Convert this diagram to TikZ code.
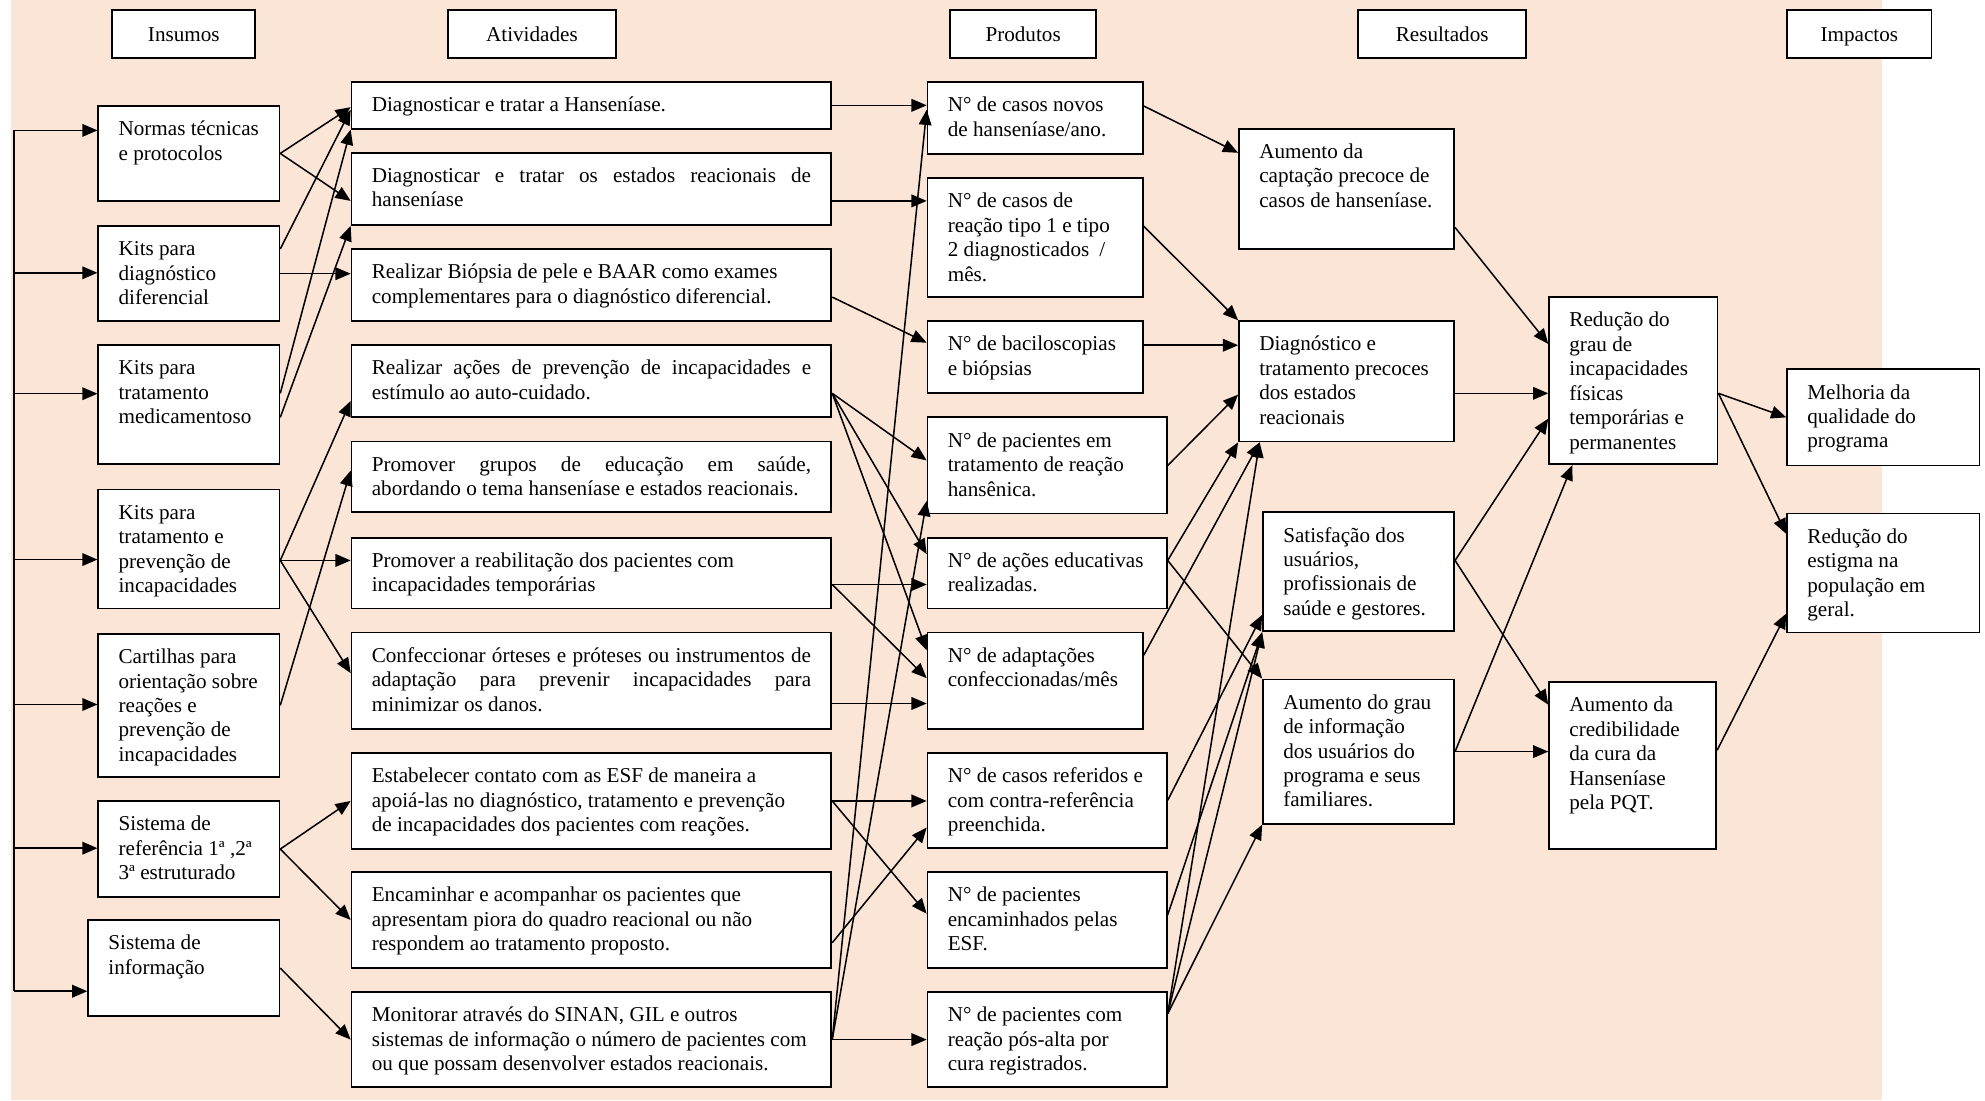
\documentclass[tikz,border=0pt]{standalone}
\usepackage{fontspec}
\setmainfont{Liberation Serif}
\usetikzlibrary{arrows.meta}
\definecolor{peach}{HTML}{FBE5D6}
\newcommand{\bt}[3]{\hspace*{16pt}\parbox[c][#2pt][t]{\dimexpr#1pt-20pt\relax}{\vspace*{10pt}\strut#3}\hspace*{4pt}}
\newcommand{\jtxt}[1]{\makebox[\dimexpr\linewidth-12pt\relax][s]{#1}}
\begin{document}
\begin{tikzpicture}[x=1pt,y=1pt,
  every node/.style={font=\fontsize{16.7}{19.3}\selectfont},
  box/.style={draw, line width=1.4pt, fill=white, anchor=north west, inner sep=0pt},
  hdr/.style={draw, line width=1.4pt, fill=white, anchor=north west, inner sep=0pt, minimum height=38pt, text height=13pt, text depth=1pt},
  arr/.style={line width=1.2pt, -{Triangle[length=12pt,width=10pt]}},
  ln/.style={line width=1.2pt}]
\path[use as bounding box] (0,0) rectangle (1568,-869);
\fill[peach] (9,0) rectangle (1487,-869);

% headers
\node[hdr, minimum width=113pt] (hI) at (88,-7) {Insumos};
\node[hdr, minimum width=133pt] (hA) at (353,-7) {Atividades};
\node[hdr, minimum width=115pt] (hP) at (750,-7) {Produtos};
\node[hdr, minimum width=133pt] (hR) at (1072,-7) {Resultados};
\node[hdr, minimum width=114pt] (hM) at (1411,-7) {Impactos};

% insumos
\node[box] (in1) at (77,-83) {\bt{143}{75}{Normas técnicas\\e protocolos}};
\node[box] (in2) at (77,-178) {\bt{143}{75}{Kits para\\diagnóstico\\diferencial}};
\node[box] (in3) at (77,-272) {\bt{143}{94}{Kits para\\tratamento\\medicamentoso}};
\node[box] (in4) at (77,-386) {\bt{143}{94}{Kits para\\tratamento e\\prevenção de\\incapacidades}};
\node[box] (in5) at (77,-500) {\bt{143}{113}{Cartilhas para\\orientação sobre\\reações e\\prevenção de\\incapacidades}};
\node[box] (in6) at (77,-632) {\bt{143}{76}{Sistema de\\referência 1ª ,2ª\\3ª estruturado}};
\node[box] (in7) at (69,-726) {\bt{151}{76}{Sistema de\\informação}};

% atividades
\node[box] (a1) at (277,-64) {\bt{379}{37}{Diagnosticar e tratar a Hanseníase.}};
\node[box] (a2) at (277,-120) {\bt{379}{57}{\jtxt{Diagnosticar e tratar os estados reacionais de}\\hanseníase}};
\node[box] (a3) at (277,-196) {\bt{379}{57}{Realizar Biópsia de pele e BAAR como exames\\complementares para o diagnóstico diferencial.}};
\node[box] (a4) at (277,-272) {\bt{379}{57}{\jtxt{Realizar ações de prevenção de incapacidades e}\\estímulo ao auto-cuidado.}};
\node[box] (a5) at (277,-348) {\bt{379}{56}{\jtxt{Promover grupos de educação em saúde,}\\abordando o tema hanseníase e estados reacionais.}};
\node[box] (a6) at (277,-424) {\bt{379}{56}{Promover a reabilitação dos pacientes com\\incapacidades temporárias}};
\node[box] (a7) at (277,-499) {\bt{379}{76}{\jtxt{Confeccionar órteses e próteses ou instrumentos de}\\\jtxt{adaptação para prevenir incapacidades para}\\minimizar os danos.}};
\node[box] (a8) at (277,-594) {\bt{379}{76}{Estabelecer contato com as ESF de maneira a\\apoiá-las no diagnóstico, tratamento e prevenção\\de incapacidades dos pacientes com reações.}};
\node[box] (a9) at (277,-688) {\bt{379}{76}{Encaminhar e acompanhar os pacientes que\\apresentam piora do quadro reacional ou não\\respondem ao tratamento proposto.}};
\node[box] (a10) at (277,-783) {\bt{379}{75}{Monitorar através do SINAN, GIL e outros\\sistemas de informação o número de pacientes com\\ou que possam desenvolver estados reacionais.}};

% produtos
\node[box] (p1) at (732,-64) {\bt{170}{57}{N° de casos novos\\de hanseníase/ano.}};
\node[box] (p2) at (732,-140) {\bt{170}{94}{N° de casos de\\reação tipo 1 e tipo\\2 diagnosticados\hspace{8pt}/\\mês.}};
\node[box] (p3) at (732,-253) {\bt{170}{57}{N° de baciloscopias\\e biópsias}};
\node[box] (p4) at (732,-329) {\bt{189}{76}{N° de pacientes em\\tratamento de reação\\hansênica.}};
\node[box] (p5) at (732,-424) {\bt{189}{56}{N° de ações educativas\\realizadas.}};
\node[box] (p6) at (732,-499) {\bt{170}{76}{N° de adaptações\\confeccionadas/mês}};
\node[box] (p7) at (732,-594) {\bt{189}{75}{N° de casos referidos e\\com contra-referência\\preenchida.}};
\node[box] (p8) at (732,-688) {\bt{189}{76}{N° de pacientes\\encaminhados pelas\\ESF.}};
\node[box] (p9) at (732,-783) {\bt{189}{75}{N° de pacientes com\\reação pós-alta por\\cura registrados.}};

% resultados
\node[box] (r1) at (978,-101) {\bt{170}{95}{Aumento da\\captação precoce de\\casos de hanseníase.}};
\node[box] (r2) at (978,-253) {\bt{170}{95}{Diagnóstico e\\tratamento precoces\\dos estados\\reacionais}};
\node[box] (r3) at (997,-404) {\bt{151}{94}{Satisfação dos\\usuários,\\profissionais de\\saúde e gestores.}};
\node[box] (r4) at (997,-536) {\bt{151}{114}{Aumento do grau\\de informação\\dos usuários do\\programa e seus\\familiares.}};

\node[box] (s1) at (1223,-234) {\bt{133}{132}{Redução do\\grau de\\incapacidades\\físicas\\temporárias e\\permanentes}};
\node[box] (s2) at (1223,-538) {\bt{132}{132}{Aumento da\\credibilidade\\da cura da\\Hanseníase\\pela PQT.}};

% impactos
\node[box] (m1) at (1411,-291) {\bt{152}{76}{Melhoria da\\qualidade do\\programa}};
\node[box] (m2) at (1411,-405) {\bt{152}{94}{Redução do\\estigma na\\população em\\geral.}};

% left bus
\coordinate (b1) at (11,-103);
\coordinate (b2) at (11,-215.5);
\coordinate (b3) at (11,-311);
\coordinate (b4) at (11,-442);
\coordinate (b5) at (11,-556.5);
\coordinate (b6) at (11,-670);
\coordinate (b7) at (11,-783);
\draw[ln] (b1) -- (b7);
\draw[arr] (b1) -- (b1 -| in1.west);
\draw[arr] (b2) -- (b2 -| in2.west);
\draw[arr] (b3) -- (b3 -| in3.west);
\draw[arr] (b4) -- (b4 -| in4.west);
\draw[arr] (b5) -- (b5 -| in5.west);
\draw[arr] (b6) -- (b6 -| in6.west);
\draw[arr] (b7) -- (b7 -| in7.west);

% insumos -> atividades
\draw[arr] (in1.east) -- ([yshift=-1.5pt]a1.west);
\draw[arr] (in1.east) -- ([yshift=-9.5pt]a2.west);
\draw[arr] ([yshift=19.5pt]in2.east) -- ([yshift=-3.5pt]a1.west);
\draw[arr] (in2.east) -- (in2.east -| a3.west);
\draw[arr] ([yshift=9pt]in3.east) -- (a1.south west);
\draw[arr] ([yshift=-10pt]in3.east) -- (a2.south west);
\coordinate (o4) at ([yshift=-9pt]in4.east);
\draw[arr] (o4) -- ([yshift=-15.5pt]a4.west);
\draw[arr] (o4) -- (o4 -| a6.west);
\draw[arr] (o4) -- ([yshift=6pt]a7.west);
\draw[arr] (in5.east) -- ([yshift=5pt]a5.west);
\draw[arr] (in6.east) -- (a8.west);
\draw[arr] (in6.east) -- (a9.west);
\draw[arr] (in7.east) -- (a10.west);

% atividades -> produtos
\draw[arr] (a1.east) -- (a1.east -| p1.west);
\coordinate (oa2) at ([yshift=-9.5pt]a2.east);
\draw[arr] (oa2) -- (oa2 -| p2.west);
\draw[arr] ([yshift=-9.5pt]a3.east) -- ([yshift=11.5pt]p3.west);
\coordinate (oa4) at ([yshift=-9.5pt]a4.east);
\draw[arr] (oa4) -- ([yshift=4pt]p4.west);
\draw[arr] (oa4) -- ([yshift=15pt]p5.west);
\draw[arr] (oa4) -- ([yshift=24pt]p6.west);
\coordinate (oa6) at ([yshift=-9pt]a6.east);
\draw[arr] (oa6) -- (oa6 -| p5.west);
\draw[arr] (oa6) -- ([yshift=2pt]p6.west);
\coordinate (oa7) at ([yshift=-18pt]a7.east);
\draw[arr] (oa7) -- (oa7 -| p6.west);
\draw[arr] (a8.east) -- (a8.east -| p7.west);
\draw[arr] (a8.east) -- ([yshift=5pt]p8.west);
\draw[arr] ([yshift=-18pt]a9.east) -- ([yshift=-21.5pt]p7.west);
\draw[arr] (a10.east) -- (a10.east -| p9.west);
\draw[arr] (a10.east) -- ([yshift=6.5pt]p1.west);
\draw[arr] (a10.east) -- ([yshift=-28pt]p4.west);

% produtos -> resultados
\draw[arr] ([yshift=9.5pt]p1.east) -- ([yshift=28.5pt]r1.west);
\draw[arr] ([yshift=9pt]p2.east) -- (r2.north west);
\coordinate (q3) at ([yshift=9.5pt]p3.east);
\draw[arr] (q3) -- (q3 -| r2.west);
\draw[arr] (p4.east) -- ([yshift=-10.5pt]r2.west);
\coordinate (q5) at ([yshift=10pt]p5.east);
\draw[arr] (q5) -- (r2.south west);
\draw[arr] (q5) -- (r4.north west);
\draw[arr] ([yshift=20pt]p6.east) -- ([xshift=17pt]r2.south west);
\draw[arr] (p7.east) -- ([yshift=-34pt]r3.west);
\draw[arr] ([yshift=4pt]p8.east) -- (r3.south west);
\coordinate (q9) at ([yshift=20.5pt]p9.east);
\draw[arr] (q9) -- ([xshift=17pt]r2.south west);
\draw[arr] (q9) -- (r3.south west);
\draw[arr] (q9) -- (r4.south west);

% resultados -> s
\draw[arr] ([yshift=-30.5pt]r1.east) -- ([yshift=29pt]s1.west);
\coordinate (u2) at ([yshift=-9.5pt]r2.east);
\draw[arr] (u2) -- (u2 -| s1.west);
\coordinate (u3) at ([yshift=9pt]r3.east);
\draw[arr] (u3) -- ([yshift=-30pt]s1.west);
\draw[arr] (u3) -- ([yshift=48pt]s2.west);
\draw[arr] (r4.east) -- ([xshift=19pt]s1.south west);
\draw[arr] (r4.east) -- (r4.east -| s2.west);

% s -> impactos
\coordinate (v1) at ([yshift=-10pt]s1.east);
\draw[arr] (v1) -- (m1.west);
\draw[arr] (v1) -- ([yshift=31pt]m2.west);
\draw[arr] ([yshift=12pt]s2.east) -- ([yshift=-32pt]m2.west);
\end{tikzpicture}
\end{document}
